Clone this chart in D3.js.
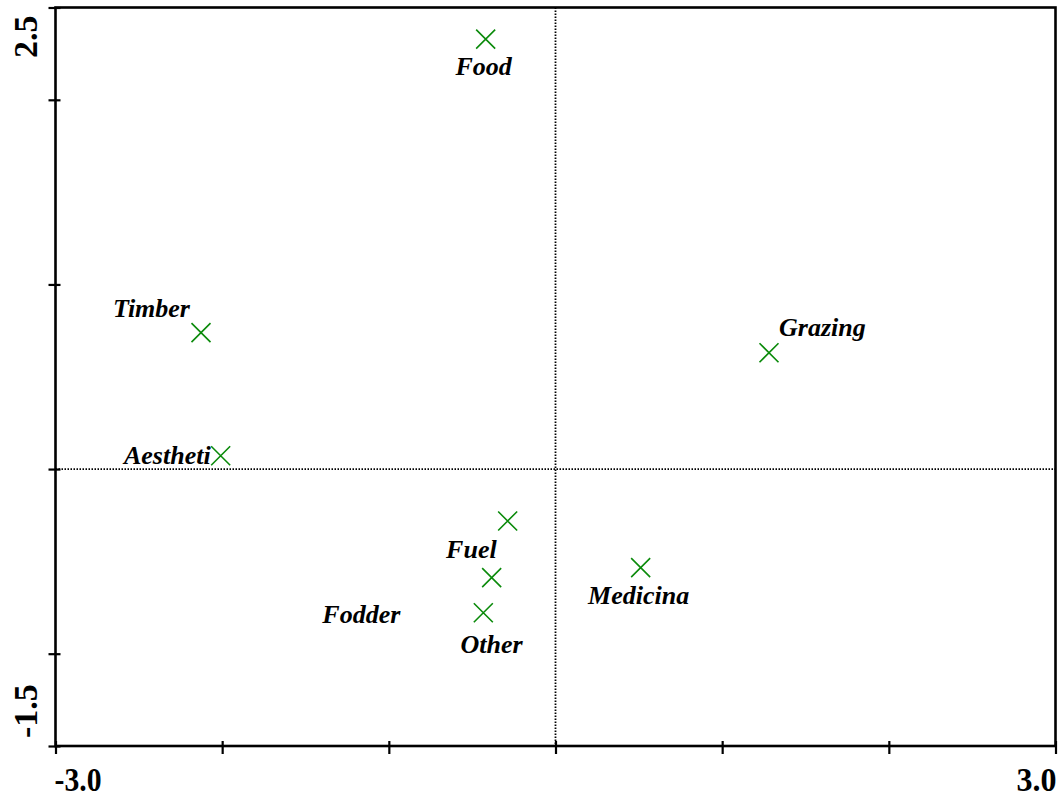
<!DOCTYPE html>
<html>
<head>
<meta charset="utf-8">
<script src="https://cdn.jsdelivr.net/npm/d3@7"></script>
<style>
  html, body { margin: 0; padding: 0; background: #fff; }
  svg { display: block; }
</style>
</head>
<body>
<svg id="chart" width="1062" height="802"></svg>
<script>
// Ordination scores for each ecosystem service
const services = ["Food", "Timber", "Aestheti", "Fuel", "Other", "Fodder", "Medicina", "Grazing"];
const axis1 = [-0.419, -2.127, -2.009, -0.287, -0.383, -0.433, 0.511, 1.281];
const axis2 = [2.329, 0.739, 0.072, -0.281, -0.588, -0.778, -0.534, 0.630];

// Axis ranges, tick positions and the end labels
const xDomain = [-3.0, 3.0];
const yDomain = [-1.5, 2.5];
const xTicks = [-3, -2, -1, 0, 1, 2, 3];
const yTicks = [-1.5, -1, 0, 1, 2, 2.5];
const xTickLabels = ["-3.0", "3.0"];
const yTickLabels = ["-1.5", "2.5"];

// Label placement around each marker (pixels, text anchor)
const labelPlacement = {
  Food:     { dx: -2,   dy: 36,  anchor: "middle" },
  Timber:   { dx: -11,  dy: -16, anchor: "end" },
  Aestheti: { dx: -10,  dy: 8,   anchor: "end" },
  Fuel:     { dx: -11,  dy: 37,  anchor: "end" },
  Other:    { dx: 0,    dy: 75,  anchor: "middle" },
  Fodder:   { dx: -83,  dy: 10,  anchor: "end" },
  Medicina: { dx: -2,   dy: 36,  anchor: "middle" },
  Grazing:  { dx: 10,   dy: -17, anchor: "start" }
};

const points = services.map((name, i) => ({ name, x: axis1[i], y: axis2[i] }));

const plotLeft = 55.5, plotRight = 1055.5, plotTop = 7.5, plotBottom = 746;
const svg = d3.select("#chart");

const x = d3.scaleLinear().domain(xDomain).range([plotLeft, plotRight]);
const y = d3.scaleLinear().domain(yDomain).range([plotBottom, plotTop]);

// Dotted zero lines
svg.append("line")
  .attr("x1", x(0)).attr("x2", x(0))
  .attr("y1", plotTop).attr("y2", plotBottom)
  .attr("stroke", "#000").attr("stroke-width", 1.8)
  .attr("stroke-dasharray", "1.5,1.5");
svg.append("line")
  .attr("x1", plotLeft).attr("x2", plotRight)
  .attr("y1", y(0)).attr("y2", y(0))
  .attr("stroke", "#000").attr("stroke-width", 1.8)
  .attr("stroke-dasharray", "1.5,1.5");

// Frame
svg.append("rect")
  .attr("x", plotLeft).attr("y", plotTop)
  .attr("width", plotRight - plotLeft).attr("height", plotBottom - plotTop)
  .attr("fill", "none").attr("stroke", "#000").attr("stroke-width", 2.6);

// Axes: ticks cross the frame line
const xAxis = d3.axisBottom(x).tickValues(xTicks).tickSize(8).tickFormat("");
const gx = svg.append("g").attr("transform", `translate(0,${plotBottom})`).call(xAxis);
gx.select(".domain").remove();
gx.selectAll(".tick line").attr("y1", -5).attr("stroke-width", 2.2).attr("stroke", "#000");

const yAxis = d3.axisLeft(y).tickValues(yTicks).tickSize(7).tickFormat("");
const gy = svg.append("g").attr("transform", `translate(${plotLeft},0)`).call(yAxis);
gy.select(".domain").remove();
gy.selectAll(".tick line").attr("x1", 5).attr("stroke-width", 2.2).attr("stroke", "#000");

const tickFont = "'Liberation Serif', 'Times New Roman', serif";

// End labels of the horizontal axis
svg.append("text")
  .attr("x", x(xDomain[0]) - 1).attr("y", 791)
  .attr("text-anchor", "start")
  .attr("font-family", tickFont).attr("font-weight", "bold").attr("font-size", 34)
  .attr("textLength", 47).attr("lengthAdjust", "spacingAndGlyphs")
  .text(xTickLabels[0]);
svg.append("text")
  .attr("x", x(xDomain[1]) + 1).attr("y", 791)
  .attr("text-anchor", "end")
  .attr("font-family", tickFont).attr("font-weight", "bold").attr("font-size", 34)
  .attr("textLength", 40).attr("lengthAdjust", "spacingAndGlyphs")
  .text(xTickLabels[1]);

// End labels of the vertical axis, rotated
svg.append("text")
  .attr("transform", `translate(37,${y(yDomain[0]) - 8}) rotate(-90)`)
  .attr("text-anchor", "start")
  .attr("font-family", tickFont).attr("font-weight", "bold").attr("font-size", 34)
  .text(yTickLabels[0]);
svg.append("text")
  .attr("transform", `translate(37,${y(yDomain[1]) + 8}) rotate(-90)`)
  .attr("text-anchor", "end")
  .attr("font-family", tickFont).attr("font-weight", "bold").attr("font-size", 34)
  .text(yTickLabels[1]);

// Cross markers
const s = 9.5;
const marks = svg.append("g").selectAll("g").data(points).join("g")
  .attr("transform", d => `translate(${x(d.x)},${y(d.y)})`);
marks.append("path")
  .attr("d", `M${-s},${-s}L${s},${s}M${-s},${s}L${s},${-s}`)
  .attr("stroke", "#0a8a0a").attr("stroke-width", 1.6).attr("fill", "none");

// Service labels
svg.append("g").selectAll("text").data(points).join("text")
  .attr("x", d => x(d.x) + labelPlacement[d.name].dx)
  .attr("y", d => y(d.y) + labelPlacement[d.name].dy)
  .attr("text-anchor", d => labelPlacement[d.name].anchor)
  .attr("font-family", tickFont)
  .attr("font-weight", "bold").attr("font-style", "italic")
  .attr("font-size", 26)
  .attr("fill", "#000")
  .text(d => d.name);
</script>
</body>
</html>
